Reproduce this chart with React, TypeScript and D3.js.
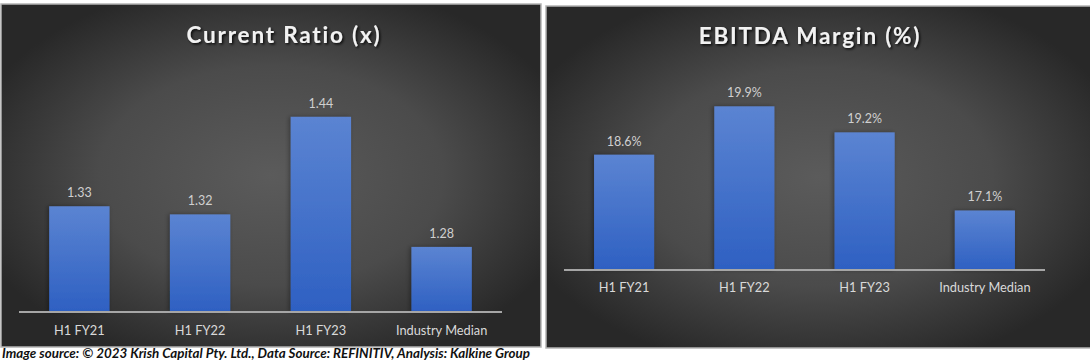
import React from "react";
import * as d3 from "d3";

const categories = ["H1 FY21", "H1 FY22", "H1 FY23", "Industry Median"];
const currentRatio = [1.33, 1.32, 1.44, 1.28];
const ebitdaMargin = [18.6, 19.9, 19.2, 17.1];
const currentRatioDomain = [1.2, 1.5];
const ebitdaDomain = [15.5, 20.5];
const caption =
  "Image source: © 2023 Krish Capital Pty. Ltd., Data Source: REFINITIV, Analysis: Kalkine Group";

const FONT = "Lato, 'Open Sans', sans-serif";

type PanelProps = {
  id: string;
  px: number; py: number; pw: number; ph: number;
  title: string; titleX: number; titleY: number;
  values: number[]; domain: number[];
  x0: number; x1: number; yBase: number; yTop: number;
  fmt: (v: number) => string;
  catY: number;
};

function Panel(p: PanelProps) {
  const x = d3.scaleBand<string>().domain(categories).range([p.x0, p.x1]).paddingInner(0.5).paddingOuter(0.25);
  const y = d3.scaleLinear().domain(p.domain).range([p.yBase, p.yTop]);
  const cx = p.px + p.pw / 2;
  const cy = p.py + p.ph / 2;
  return (
    <g>
      <defs>
        <radialGradient id={`bg-${p.id}`} gradientUnits="userSpaceOnUse" cx={cx} cy={cy} r={p.pw * 0.58} gradientTransform={`translate(${cx},${cy}) scale(1,${(p.ph / p.pw) * 1.0}) translate(${-cx},${-cy})`}>
          <stop offset="0" stopColor="#5b5b5b" />
          <stop offset="0.55" stopColor="#4b4b4b" />
          <stop offset="1" stopColor="#282828" />
        </radialGradient>
      </defs>
      <rect x={p.px} y={p.py} width={p.pw} height={p.ph} fill={`url(#bg-${p.id})`} stroke="#b4b4b4" strokeWidth={1.5} />
      <text x={p.titleX} y={p.titleY} textAnchor="middle" fontFamily={FONT} fontWeight={700} fontSize={22.5} fill="#f2f2f2" letterSpacing={1.8} filter="url(#tshadow)">
        {p.title}
      </text>
      {categories.map((c, i) => (
        <g key={c}>
          <rect x={x(c)} y={y(p.values[i])} width={x.bandwidth()} height={p.yBase - y(p.values[i])} fill="url(#barGrad)" filter="url(#bshadow)" />
          <text x={(x(c) as number) + x.bandwidth() / 2} y={y(p.values[i]) - 9} textAnchor="middle" fontFamily={FONT} fontSize={12.5} fill="#d0d0d0">
            {p.fmt(p.values[i])}
          </text>
          <text x={(x(c) as number) + x.bandwidth() / 2} y={p.catY} textAnchor="middle" fontFamily={FONT} fontSize={12.8} fill="#d9d9d9">
            {c}
          </text>
        </g>
      ))}
      <line x1={p.x0} x2={p.x1} y1={p.yBase} y2={p.yBase} stroke="#a6a6a6" strokeWidth={2} />
    </g>
  );
}

export default function App() {
  const f2 = d3.format(".2f");
  const fp = (v: number) => d3.format(".1f")(v) + "%";
  return (
    <svg width={1090} height={362} style={{ position: "absolute", left: 0, top: 0, background: "#ffffff" }}>
      <defs>
        <linearGradient id="barGrad" x1="0" y1="0" x2="0" y2="1">
          <stop offset="0" stopColor="#5b84d2" />
          <stop offset="1" stopColor="#2e60c2" />
        </linearGradient>
        <filter id="tshadow" x="-10%" y="-30%" width="120%" height="160%">
          <feDropShadow dx="1.5" dy="1.5" stdDeviation="1.2" floodColor="#000" floodOpacity="0.8" />
        </filter>
        <filter id="bshadow" x="-20%" y="-10%" width="140%" height="120%">
          <feDropShadow dx="-1.5" dy="0" stdDeviation="2" floodColor="#000" floodOpacity="0.35" />
        </filter>
      </defs>
      <Panel id="l" px={1} py={4} pw={540} ph={343} title="Current Ratio (x)" titleX={284} titleY={43}
        values={currentRatio} domain={currentRatioDomain} x0={19} x1={502} yBase={312} yTop={68}
        fmt={f2} catY={335} />
      <Panel id="r" px={546} py={6} pw={545} ph={342} title="EBITDA Margin (%)" titleX={810} titleY={44}
        values={ebitdaMargin} domain={ebitdaDomain} x0={564} x1={1045} yBase={270} yTop={84}
        fmt={fp} catY={292} />
      <text x={2} y={358} fontFamily={FONT} fontStyle="italic" fontWeight={700} fontSize={13} fill="#111" textLength={528} lengthAdjust="spacingAndGlyphs">
        {caption}
      </text>
    </svg>
  );
}
